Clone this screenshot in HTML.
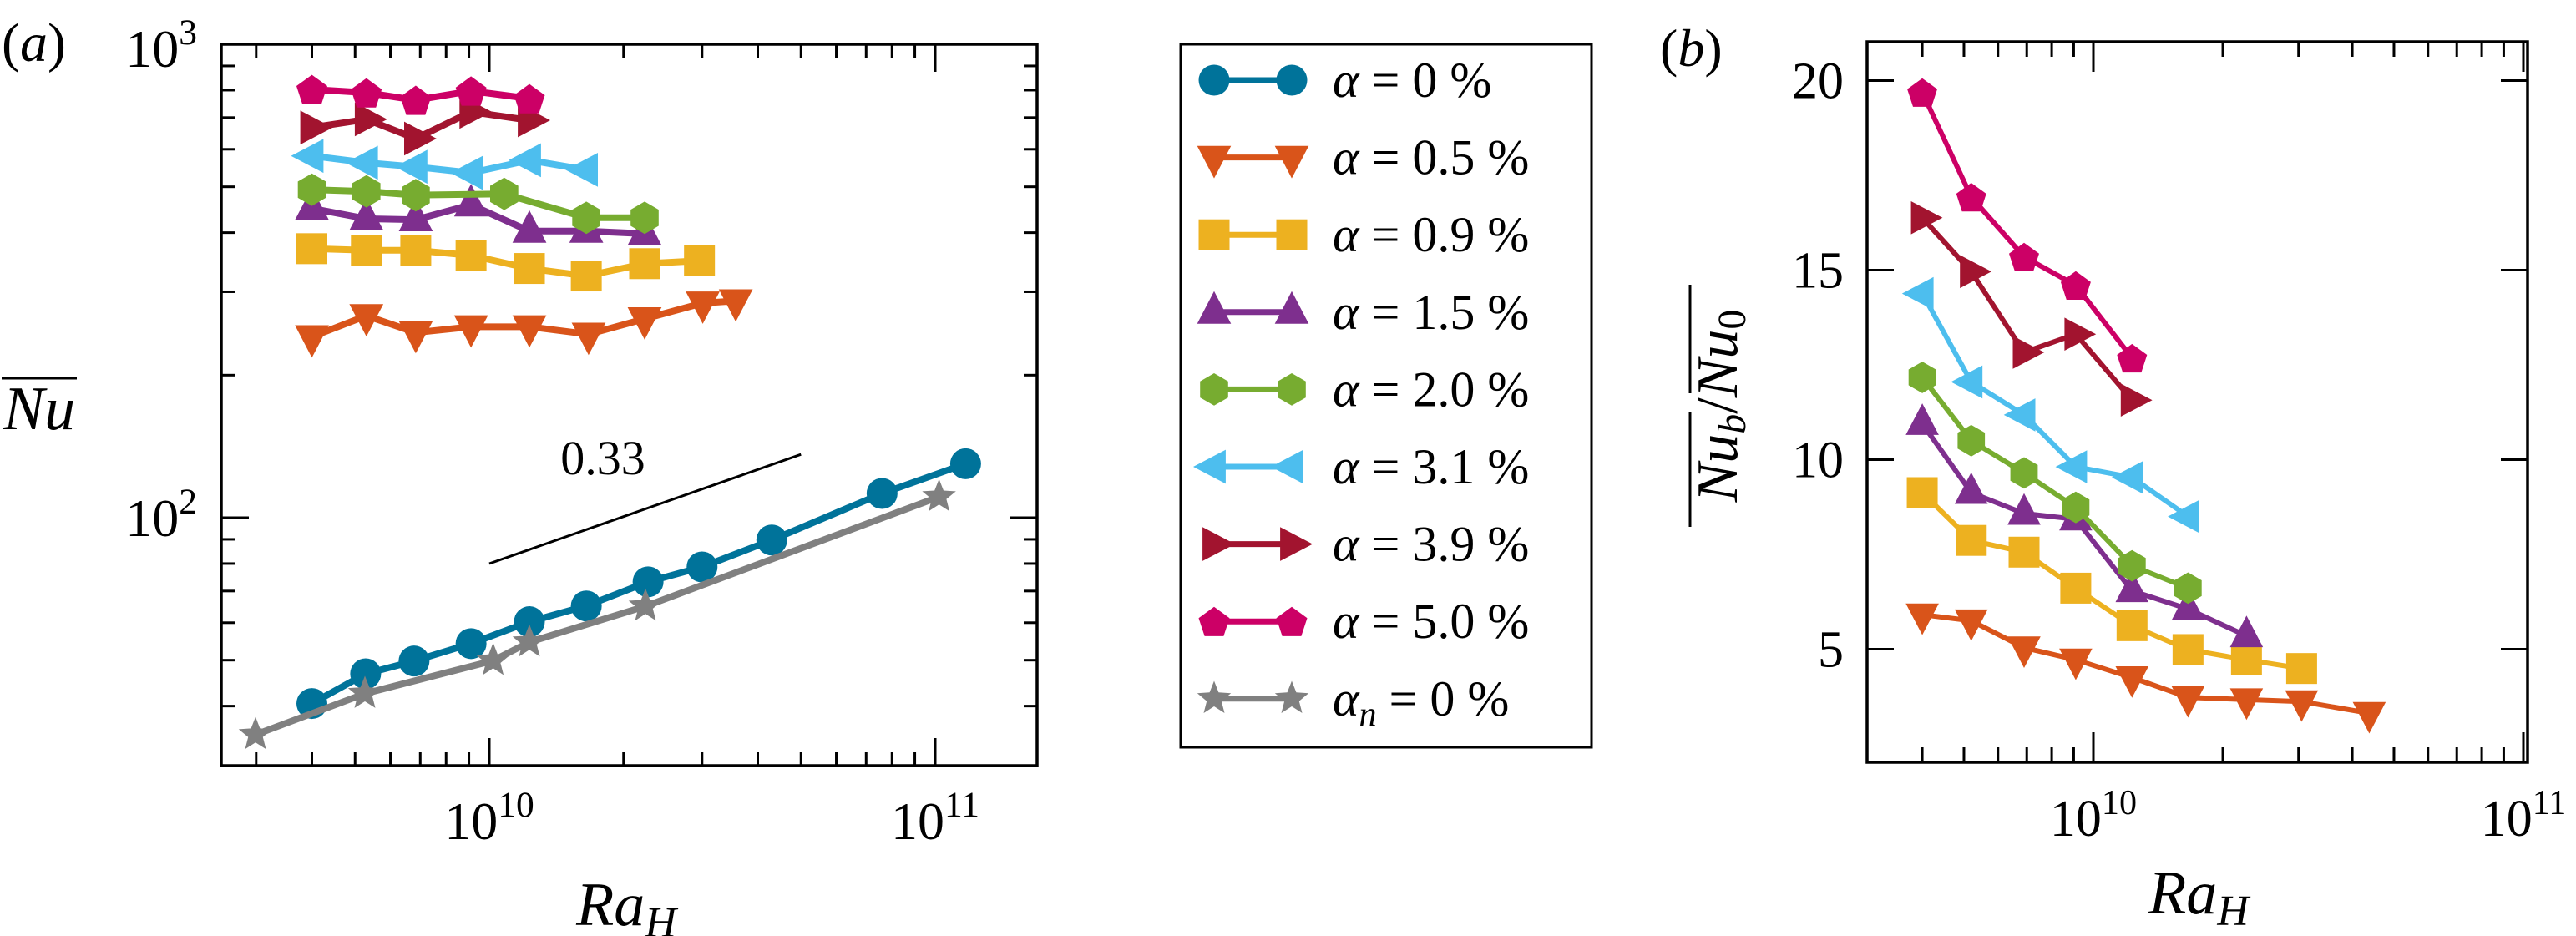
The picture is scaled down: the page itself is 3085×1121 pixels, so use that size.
<!DOCTYPE html>
<html><head><meta charset="utf-8"><style>
html,body{margin:0;padding:0;background:#fff;}
svg{display:block;font-family:"Liberation Serif","DejaVu Serif",serif;}
svg text{font-family:"Liberation Serif","DejaVu Serif",serif;fill:#000;}
</style></head><body>
<svg id="fig" width="3085" height="1121" viewBox="0 0 3085 1121" xmlns="http://www.w3.org/2000/svg" font-family="Liberation Serif, DejaVu Serif, serif">
<g id="pa"></g>
<g id="pb"></g>
<g id="lg"></g>
</svg>
<script>
// ---- Panel (a) data ----
const aX0 = [4.0e9,5.3e9,6.84e9,9.1e9,1.23e10];
const aX1 = [4.0e9,5.3e9,6.84e9,9.1e9,1.23e10,1.65e10];
const aXg = [4.0e9,5.3e9,6.84e9,1.08e10,1.65e10,2.23e10];
const aX2 = [4.0e9,5.3e9,6.84e9,9.1e9,1.23e10,1.65e10,2.23e10];
const aX3 = [4.0e9,5.3e9,6.84e9,9.1e9,1.23e10,1.65e10,2.23e10,2.96e10];
const aX4 = [4.0e9,5.3e9,6.84e9,9.1e9,1.23e10,1.67e10,2.23e10,3.01e10,3.57e10];
const aXblue = [4.0e9,5.28e9,6.78e9,9.1e9,1.23e10,1.65e10,2.27e10,3.0e10,4.3e10,7.6e10,1.17e11];
const aXgray = [2.99e9,5.26e9,1.02e10,1.23e10,2.24e10,1.02e11];
const aNu0 = [40.5,46.8,49.8,54.2,60.3,65.1,73.2,78.7,89.7,112.5,130];
const aNu05 = [241,267,246,253,253,244,263,284,287];
const aNu09 = [370,367,367,358,336,324,344,349];
const aNu15 = [450,428,426,458,403,403,398];
const aNu20 = [493,489,480,483,430,430];
const aNu31 = [581,562,551,535,569,543];
const aNu39 = [667,694,632,720,691];
const aNu50 = [803,790,762,797,768];
const aNuN = [34.8,42.5,49.9,54.6,65.0,110.7];
// ---- Panel (b) data ----
const bX = [4.0e9,5.2e9,6.9e9,9.1e9,1.23e10,1.66e10,2.27e10,3.05e10,4.38e10];
const bR05 = [5.91,5.75,5.04,4.72,4.25,3.73,3.67,3.62,3.31];
const bR09 = [9.13,7.87,7.56,6.61,5.62,4.99,4.72,4.49];
const bR15 = [10.95,9.13,8.58,8.43,6.54,6.06,5.35];
const bR20 = [12.17,10.5,9.65,8.74,7.2,6.61];
const bR31 = [14.38,12.05,11.18,9.81,9.53,8.5];
const bR39 = [16.38,14.96,12.83,13.31,11.57];
const bR50 = [19.69,16.93,15.35,14.6,12.68];
const legendLabels = ["0","0.5","0.9","1.5","2.0","3.1","3.9","5.0","0"];

const NS="http://www.w3.org/2000/svg";
const FF="Liberation Serif, DejaVu Serif, serif";
function mk(tag,attrs,parent){const e=document.createElementNS(NS,tag);for(const k in attrs)e.setAttribute(k,attrs[k]);if(tag==='text')e.setAttribute('font-family',FF);if(parent)parent.appendChild(e);return e;}
const L=Math.log10;
const xa=v=>586+534*(L(v)-10), ya=v=>53+567*(3-L(v));
const xb=v=>2507+515*(L(v)-10), yb=v=>96.5+45.4*(20-v);

function poly(pts){return pts.map(p=>p.map(n=>n.toFixed(1)).join(',')).join(' ');}
function marker(g,shape,cx,cy,col,s){
  let e;
  const r=s/2;
  if(shape==='circle'){e=mk('ellipse',{cx,cy,rx:r,ry:r,fill:col},g);}
  else if(shape==='square'){e=mk('rect',{x:cx-r,y:cy-r,width:s,height:s,fill:col},g);}
  else if(shape==='tdown'){e=mk('polygon',{points:poly([[cx-r*1.1,cy-r*0.75],[cx+r*1.1,cy-r*0.75],[cx,cy+r*1.35]]),fill:col},g);}
  else if(shape==='tup'){e=mk('polygon',{points:poly([[cx-r*1.1,cy+r*0.75],[cx+r*1.1,cy+r*0.75],[cx,cy-r*1.35]]),fill:col},g);}
  else if(shape==='tleft'){e=mk('polygon',{points:poly([[cx+r*0.75,cy-r*1.1],[cx+r*0.75,cy+r*1.1],[cx-r*1.35,cy]]),fill:col},g);}
  else if(shape==='tright'){e=mk('polygon',{points:poly([[cx-r*0.75,cy-r*1.1],[cx-r*0.75,cy+r*1.1],[cx+r*1.35,cy]]),fill:col},g);}
  else if(shape==='hex'){const p=[];for(let i=0;i<6;i++){const a=Math.PI/2+i*Math.PI/3;p.push([cx+r*1.05*Math.cos(a),cy-r*1.05*Math.sin(a)]);}e=mk('polygon',{points:poly(p),fill:col},g);}
  else if(shape==='pent'){const p=[];for(let i=0;i<5;i++){const a=Math.PI/2+i*2*Math.PI/5;p.push([cx+r*1.05*Math.cos(a),cy-r*1.05*Math.sin(a)+2]);}e=mk('polygon',{points:poly(p),fill:col},g);}
  else if(shape==='star'){const p=[];for(let i=0;i<10;i++){const a=Math.PI/2+i*Math.PI/5;const rr=i%2?r*0.5:r*1.15;p.push([cx+rr*Math.cos(a),cy-rr*Math.sin(a)]);}e=mk('polygon',{points:poly(p),fill:col},g);}
  return e;
}
function series(g,name,xs,ys,fx,fy,col,shape,s,lw){
  const sg=mk('g',{},g);
  
  
  const pts=xs.slice(0,ys.length).map((x,i)=>[fx(x),fy(ys[i])]);
  const pl=mk('polyline',{points:poly(pts),fill:'none',stroke:col,'stroke-width':lw,'stroke-linejoin':'round'},sg);
  
  
  pts.forEach(p=>{const m=marker(sg,shape,p[0],p[1],col,s);
    
    });
}
const C={blue:'#00739a',orange:'#d9541a',yellow:'#edb120',purple:'#7e2f8e',green:'#77ac30',lblue:'#4dbeee',dred:'#a2142f',pink:'#cc0066',gray:'#808080'};

function text(g,x,y,str,size,anchor,name,italic){
  const t=mk('text',{x,y,'font-size':size,'text-anchor':anchor||'start'},g);
  if(italic)t.setAttribute('font-style','italic');
  t.textContent=str;
  
  
  return t;
}
function pow10(g,x,y,exp,size,anchor,name){
  const t=mk('text',{x,y,'font-size':size,'text-anchor':anchor},g);
  
  
  const a=mk('tspan',{},t);a.textContent='10';
  const b=mk('tspan',{dy:-size*0.42,'font-size':size*0.68},t);b.textContent=String(exp);
  return t;
}

// ---------- Panel A ----------
const pa=document.getElementById('pa');
const A={l:265,r:1242,t:53,b:917};
const ag=mk('g',{},pa);


function tk(g,x1,y1,x2,y2){mk('line',{x1,y1,x2,y2,stroke:'#000','stroke-width':3},g);}
for(let d=9;d<=11;d++)for(let m=1;m<=9;m++){const v=m*Math.pow(10,d);const x=xa(v);if(x<A.l+2||x>A.r-2)continue;const len=m===1?33:16;tk(ag,x,A.b,x,A.b-len);tk(ag,x,A.t,x,A.t+len);}
for(let d=1;d<=3;d++)for(let m=1;m<=9;m++){const v=m*Math.pow(10,d);const y=ya(v);if(y<A.t+2||y>A.b-2)continue;const len=m===1?33:16;tk(ag,A.l,y,A.l+len,y);tk(ag,A.r,y,A.r-len,y);}
const fa=mk('rect',{x:A.l,y:A.t,width:A.r-A.l,height:A.b-A.t,fill:'none',stroke:'#000','stroke-width':3.5},ag);


pow10(ag,xa(1e10),1005,10,64,'middle','x-tick-1e10-a');
pow10(ag,xa(1e11),1005,11,64,'middle','x-tick-1e11-a');
pow10(ag,236,80,3,64,'end','y-tick-1e3-a');
pow10(ag,236,ya(100)+22,2,64,'end','y-tick-1e2-a');
text(pa,2,73,'(a)',66,'start','panel-label-a',false).innerHTML='(<tspan font-style="italic">a</tspan>)';
{const t=text(pa,750,1108,'Ra',74,'middle','x-axis-title-a',true);const s=mk('tspan',{dy:14,'font-size':52},t);s.textContent='H';}
text(pa,47,514,'Nu',74,'middle','y-axis-title-a',true);
{const ol=mk('line',{x1:2,y1:453,x2:92,y2:453,stroke:'#000','stroke-width':3},pa);}
{const sl=mk('line',{x1:xa(1e10),y1:675,x2:xa(5e10),y2:675-567*0.33*L(5),stroke:'#000','stroke-width':3},pa);}
text(pa,722,568,'0.33',58,'middle','slope-label',false);

const sa=mk('g',{},pa);


series(sa,'alpha-0-a',aXblue,aNu0,xa,ya,C.blue,'circle',37,8);
series(sa,'alpha-0.5-a',aX4,aNu05,xa,ya,C.orange,'tdown',37,8);
series(sa,'alpha-0.9-a',aX3,aNu09,xa,ya,C.yellow,'square',37,8);
series(sa,'alpha-1.5-a',aX2,aNu15,xa,ya,C.purple,'tup',37,8);
series(sa,'alpha-2.0-a',aXg,aNu20,xa,ya,C.green,'hex',37,8);
series(sa,'alpha-3.1-a',aX1,aNu31,xa,ya,C.lblue,'tleft',37,8);
series(sa,'alpha-3.9-a',aX0,aNu39,xa,ya,C.dred,'tright',37,8);
series(sa,'alpha-5.0-a',aX0,aNu50,xa,ya,C.pink,'pent',37,8);
series(sa,'alpha-n-0-a',aXgray,aNuN,xa,ya,C.gray,'star',37,8);

// ---------- Panel B ----------
const pb=document.getElementById('pb');
const B={l:2236,r:3027,t:50,b:913};
const bg=mk('g',{},pb);


for(let d=9;d<=11;d++)for(let m=1;m<=9;m++){const v=m*Math.pow(10,d);const x=xb(v);if(x<B.l+2||x>B.r-2)continue;const len=m===1?36:18;tk(bg,x,B.b,x,B.b-len);tk(bg,x,B.t,x,B.t+len);}
[5,10,15,20].forEach(v=>{const y=yb(v);tk(bg,B.l,y,B.l+32,y);tk(bg,B.r,y,B.r-32,y);
  text(bg,2208,y+21,String(v),62,'end','y-tick-'+v+'-b',false);});
const fb=mk('rect',{x:B.l,y:B.t,width:B.r-B.l,height:B.b-B.t,fill:'none',stroke:'#000','stroke-width':3.5},bg);


pow10(bg,xb(1e10),1001,10,62,'middle','x-tick-1e10-b');
pow10(bg,xb(1e11),1001,11,62,'middle','x-tick-1e11-b');
text(pb,1988,79,'(b)',64,'start','panel-label-b',false).innerHTML='(<tspan font-style="italic">b</tspan>)';
{const t=text(pb,2633,1094,'Ra',74,'middle','x-axis-title-b',true);const s=mk('tspan',{dy:14,'font-size':52},t);s.textContent='H';}
{const g=mk('g',{transform:'translate(2080,486) rotate(-90)'},pb);
 
 const t=mk('text',{x:0,y:0,'font-size':70,'text-anchor':'middle','font-style':'italic'},g);
 t.innerHTML='Nu<tspan dy="10" font-size="48">b</tspan><tspan dy="-10" font-style="normal">/</tspan>Nu<tspan dy="10" font-size="48" font-style="normal">0</tspan>';
 mk('line',{x1:-145,y1:-56,x2:-8,y2:-56,stroke:'#000','stroke-width':3},g);
 mk('line',{x1:15,y1:-56,x2:145,y2:-56,stroke:'#000','stroke-width':3},g);}
const sb=mk('g',{},pb);


series(sb,'alpha-0.5-b',bX,bR05,xb,yb,C.orange,'tdown',36,6);
series(sb,'alpha-0.9-b',bX,bR09,xb,yb,C.yellow,'square',37,6);
series(sb,'alpha-1.5-b',bX,bR15,xb,yb,C.purple,'tup',36,6);
series(sb,'alpha-2.0-b',bX,bR20,xb,yb,C.green,'hex',36,6);
series(sb,'alpha-3.1-b',bX,bR31,xb,yb,C.lblue,'tleft',36,6);
series(sb,'alpha-3.9-b',bX,bR39,xb,yb,C.dred,'tright',36,6);
series(sb,'alpha-5.0-b',bX,bR50,xb,yb,C.pink,'pent',36,6);

// ---------- Legend ----------
const lg=document.getElementById('lg');
const lb=mk('rect',{x:1414,y:53,width:492,height:842,fill:'#fff',stroke:'#000','stroke-width':3},lg);


const lcols=[C.blue,C.orange,C.yellow,C.purple,C.green,C.lblue,C.dred,C.pink,C.gray];
const lshapes=['circle','tdown','square','tup','hex','tleft','tright','pent','star'];
legendLabels.forEach((lab,i)=>{
  const y=96+i*92.6;
  const g=mk('g',{},lg);
  
  
  mk('line',{x1:1454,y1:y,x2:1547,y2:y,stroke:lcols[i],'stroke-width':7},g);
  marker(g,lshapes[i],1454,y,lcols[i],37);
  marker(g,lshapes[i],1547,y,lcols[i],37);
  const t=mk('text',{x:1596,y:y+20,'font-size':60},g);
  if(i===8){t.innerHTML='<tspan font-style="italic">α</tspan><tspan font-style="italic" font-size="42" dy="12">n</tspan><tspan dy="-12"> = '+lab+' %</tspan>';}
  else{t.innerHTML='<tspan font-style="italic">α</tspan> = '+lab+' %';}
});
</script>
</body></html>
